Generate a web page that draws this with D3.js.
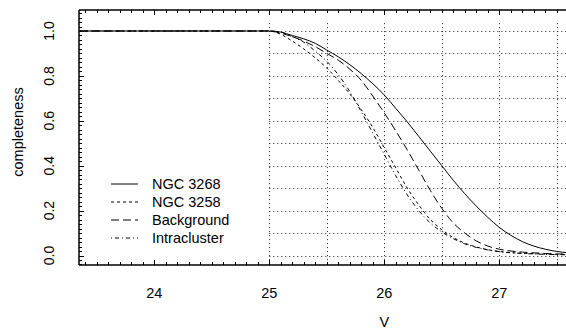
<!DOCTYPE html>
<html><head><meta charset="utf-8">
<script src="https://cdn.jsdelivr.net/npm/d3@7"></script>
<style>body{margin:0;background:#fff}svg{display:block}text{font-family:"Liberation Sans",Arial,Helvetica,sans-serif;fill:#000}</style>
</head><body><svg id="c" width="566" height="332"></svg>
<script>
const magnitudes = [23.35, 25.0, 25.1, 25.2, 25.3, 25.4, 25.5, 25.6, 25.7, 25.8, 25.9, 26.0, 26.1, 26.2, 26.3, 26.4, 26.5, 26.6, 26.7, 26.8, 26.9, 27.0, 27.1, 27.2, 27.3, 27.4, 27.5, 27.6];
const ngc3268 = [1, 1, 0.995, 0.98, 0.965, 0.945, 0.915, 0.885, 0.85, 0.81, 0.765, 0.715, 0.655, 0.595, 0.53, 0.465, 0.40, 0.335, 0.275, 0.22, 0.17, 0.125, 0.09, 0.062, 0.042, 0.028, 0.018, 0.012];
const ngc3258 = [1, 1, 0.985, 0.955, 0.92, 0.88, 0.835, 0.78, 0.72, 0.65, 0.57, 0.48, 0.39, 0.30, 0.225, 0.16, 0.115, 0.08, 0.055, 0.038, 0.026, 0.018, 0.013, 0.010, 0.008, 0.006, 0.005, 0.004];
const background = [1, 1, 0.99, 0.975, 0.955, 0.93, 0.90, 0.87, 0.83, 0.78, 0.71, 0.635, 0.555, 0.47, 0.38, 0.29, 0.21, 0.145, 0.10, 0.065, 0.042, 0.028, 0.02, 0.015, 0.012, 0.009, 0.007, 0.006];
const intracluster = [1, 1, 0.995, 0.975, 0.95, 0.91, 0.865, 0.805, 0.73, 0.64, 0.545, 0.45, 0.355, 0.27, 0.20, 0.145, 0.105, 0.075, 0.052, 0.036, 0.025, 0.017, 0.012, 0.009, 0.007, 0.005, 0.004, 0.003];
const seriesNames = ["NGC 3268", "NGC 3258", "Background", "Intracluster"];
const xTickLabels = [24, 25, 26, 27];
const yTickLabels = [0.0, 0.2, 0.4, 0.6, 0.8, 1.0];
const gridV = [25, 25.5, 26, 26.5, 27, 27.5];
const gridH = [0.0, 0.1, 0.2, 0.3, 0.4, 0.5, 0.6, 0.7, 0.8, 0.9, 1.0];

const svg = d3.select("#c");
const x = d3.scaleLinear().domain([24, 27]).range([154.3, 499.3]);
const y = d3.scaleLinear().domain([0, 1]).range([255.5, 31]);
const pLeft = 79, pTop = 10, pBottom = 265, pRight = 580;

// grid
const g = svg.append("g").attr("stroke", "#222").attr("stroke-width", 1).attr("stroke-dasharray", "1,3");
gridH.forEach(v => g.append("line").attr("x1", x(25)).attr("x2", pRight).attr("y1", Math.round(y(v)) + 0.5).attr("y2", Math.round(y(v)) + 0.5));
gridV.forEach(v => g.append("line").attr("x1", Math.round(x(v)) + 0.5).attr("x2", Math.round(x(v)) + 0.5).attr("y1", y(1.035)).attr("y2", pBottom));

// curves
const styles = [null, "3,3", "8,4", "1,3,4,3"];
const all = [ngc3268, ngc3258, background, intracluster];
const line = d3.line().x(d => x(d[0])).y(d => y(d[1])).curve(d3.curveMonotoneX);
all.forEach((s, i) => {
  svg.append("path").datum(magnitudes.map((m, j) => [m, s[j]]))
    .attr("d", line).attr("fill", "none").attr("stroke", "#000").attr("stroke-width", 1)
    .attr("stroke-dasharray", styles[i]);
});

// frame
const f = svg.append("g").attr("stroke", "#000").attr("stroke-width", 1.5);
f.append("line").attr("x1", pLeft).attr("x2", pLeft).attr("y1", pTop).attr("y2", pBottom);
f.append("line").attr("x1", pLeft).attr("x2", pRight).attr("y1", pTop).attr("y2", pTop);
f.append("line").attr("x1", pLeft).attr("x2", pRight).attr("y1", pBottom).attr("y2", pBottom);

// x ticks
const xt = svg.append("g").attr("stroke", "#000").attr("stroke-width", 1);
d3.range(234, 277).map(v => v / 10).forEach(v => {
  const major = Math.abs(v - Math.round(v)) < 1e-6;
  const len = major ? 5 : 3;
  const px = Math.round(x(v)) + 0.5;
  xt.append("line").attr("x1", px).attr("x2", px).attr("y1", pBottom).attr("y2", pBottom - len);
  xt.append("line").attr("x1", px).attr("x2", px).attr("y1", pTop).attr("y2", pTop + len);
});
// y ticks
d3.range(-2, 55).map(v => v / 50).forEach(v => {
  const major = Math.abs(v * 5 - Math.round(v * 5)) < 1e-6;
  const len = major ? 5 : 3;
  const py = Math.round(y(v)) + 0.5;
  xt.append("line").attr("x1", pLeft).attr("x2", pLeft + len).attr("y1", py).attr("y2", py);
});

// tick labels
svg.append("g").selectAll("text").data(xTickLabels).join("text")
  .attr("x", d => x(d)).attr("y", 298).attr("text-anchor", "middle").attr("font-size", 14.5).text(d => d);
svg.append("g").selectAll("text").data(yTickLabels).join("text")
  .attr("transform", d => `translate(54,${y(d)}) rotate(-90)`).attr("text-anchor", "middle")
  .attr("font-size", 14).text(d => d.toFixed(1));

// axis titles
svg.append("text").attr("x", x(26)).attr("y", 327).attr("text-anchor", "middle").attr("font-size", 14.5).text("V");
svg.append("text").attr("transform", `translate(23,${y(0.55)}) rotate(-90)`).attr("text-anchor", "middle").attr("font-size", 14.5).text("completeness");

// legend
const lg = svg.append("g");
seriesNames.forEach((n, i) => {
  const yy = 184 + i * 18;
  lg.append("line").attr("x1", 111).attr("x2", 138).attr("y1", yy).attr("y2", yy)
    .attr("stroke", "#000").attr("stroke-width", 1).attr("stroke-dasharray", styles[i]);
  lg.append("text").attr("x", 152).attr("y", yy + 5).attr("font-size", 14.5).text(n);
});
</script></body></html>
